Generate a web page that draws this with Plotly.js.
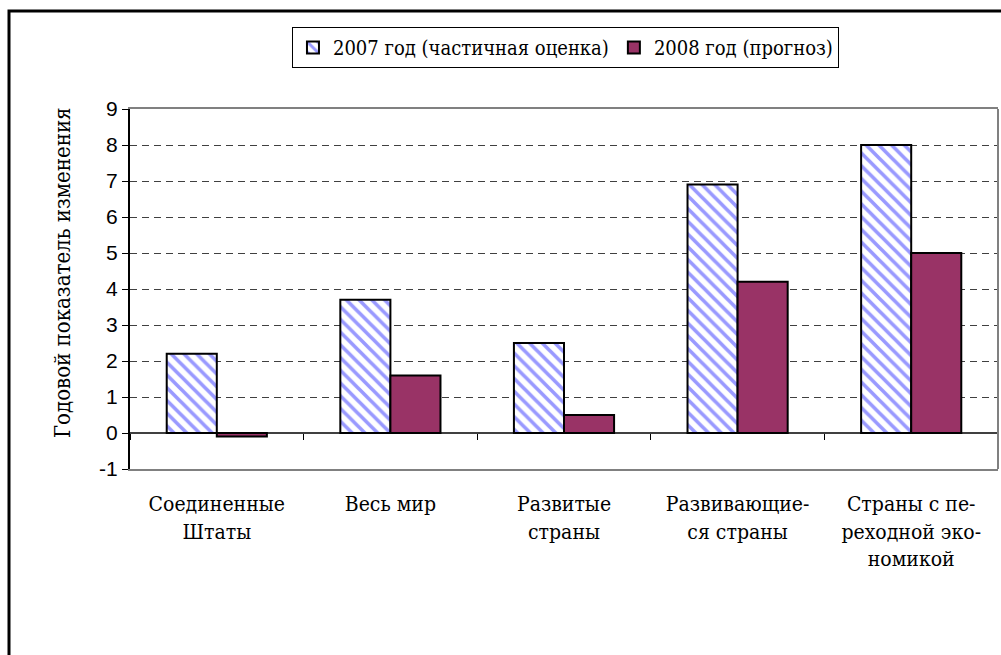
<!DOCTYPE html>
<html>
<head>
<meta charset="utf-8">
<script src="https://cdn.plot.ly/plotly-3.0.1.min.js"></script>
<style>html,body{margin:0;padding:0;background:#fff;}#chart{width:1001px;height:655px;}</style>
</head>
<body>
<div id="chart"></div>
<script>
const categories = [
  "Соединенные<br>Штаты",
  "Весь мир",
  "Развитые<br>страны",
  "Развивающие-<br>ся страны",
  "Страны с пе-<br>реходной эко-<br>номикой"
];
const series2007Name = "2007 год (частичная оценка)";
const series2008Name = "2008 год (прогноз)";
const values2007 = [2.2, 3.7, 2.5, 6.9, 8.0];
const values2008 = [-0.1, 1.6, 0.5, 4.2, 5.0];
const yTickVals = [-1, 0, 1, 2, 3, 4, 5, 6, 7, 8, 9];
const yTickText = ["-1", "0", "1", "2", "3", "4", "5", "6", "7", "8", "9"];
const yTitle = "Годовой показатель изменения";

const serif = "DejaVu Serif Condensed";
const sans = "Liberation Sans";

const traces = [
  {
    type: "bar", name: series2007Name, x: categories, y: values2007,
    marker: {
      color: "#ffffff",
      pattern: {shape: "\\", fgcolor: "#9999ff", bgcolor: "#ffffff", size: 9, solidity: 0.4},
      line: {color: "#000000", width: 2}
    },
    hoverinfo: "skip"
  },
  {
    type: "bar", name: series2008Name, x: categories, y: values2008,
    marker: {color: "#993366", line: {color: "#000000", width: 2}},
    hoverinfo: "skip"
  },
  {
    type: "scatter", x: [0], y: [0], xaxis: "x2", yaxis: "y",
    mode: "markers", marker: {opacity: 0}, showlegend: false, hoverinfo: "skip"
  }
];

const boundaryTicks = [];
for (let i = 0; i <= categories.length; i++) boundaryTicks.push(i - 0.5);

const yMin = yTickVals[0], yMax = yTickVals[yTickVals.length - 1];
const zeroFrac = (0 - yMin) / (yMax - yMin);

const layout = {
  width: 1001, height: 655,
  font: {family: "DejaVu Serif"},
  margin: {l: 130, r: 3, t: 109, b: 186, pad: 0},
  paper_bgcolor: "#ffffff", plot_bgcolor: "#ffffff",
  barmode: "group", bargap: 0.423, bargroupgap: 0,
  showlegend: true,
  legend: {
    orientation: "h", x: 0.1866, y: 1.2278, xanchor: "left", yanchor: "top",
    bordercolor: "#000000", borderwidth: 1, bgcolor: "#ffffff",
    font: {family: serif, size: 20, color: "#000000"},
    itemwidth: 30, tracegroupgap: 0
  },
  xaxis: {
    type: "category",
    range: [-0.5, categories.length - 0.5],
    showline: true, linecolor: "#808080", linewidth: 2, mirror: true,
    ticks: "", showgrid: false, zeroline: false,
    tickfont: {family: serif, size: 21, color: "#000000"},
    ticklabelstandoff: 15,
    fixedrange: true
  },
  xaxis2: {
    overlaying: "x", anchor: "free", position: zeroFrac,
    range: [-0.5, categories.length - 0.5],
    tickmode: "array", tickvals: boundaryTicks,
    ticks: "outside", ticklen: 6, tickwidth: 1, tickcolor: "#000000",
    showticklabels: false, showline: false, showgrid: false, zeroline: false,
    fixedrange: true
  },
  yaxis: {
    range: [yMin, yMax],
    tickmode: "array", tickvals: yTickVals, ticktext: yTickText,
    ticks: "outside", ticklen: 6, tickwidth: 1, tickcolor: "#000000",
    showline: true, linecolor: "#000000", linewidth: 2, mirror: false,
    showgrid: true, gridcolor: "#404040", gridwidth: 1, griddash: "7px,5px",
    zeroline: true, zerolinecolor: "#404040", zerolinewidth: 1.5,
    tickfont: {family: sans, size: 21, color: "#000000"},
    fixedrange: true
  },
  annotations: [
    {text: yTitle, xref: "paper", yref: "paper", x: -0.0783, y: 0.5444,
     xanchor: "center", yanchor: "middle", textangle: -90, showarrow: false,
     font: {family: serif, size: 22, color: "#000000"}}
  ],
  shapes: [
    {type: "line", xref: "paper", yref: "paper", x0: 1, x1: 1, y0: 0, y1: 1,
     line: {color: "#808080", width: 2}},
    {type: "rect", xref: "paper", yref: "paper", x0: -0.1394, x1: 1.2, y0: -1, y1: 1.2722,
     line: {color: "#000000", width: 3}, fillcolor: "rgba(0,0,0,0)", layer: "below"}
  ]
};

Plotly.newPlot("chart", traces, layout, {displayModeBar: false, staticPlot: true});
</script>
</body>
</html>
